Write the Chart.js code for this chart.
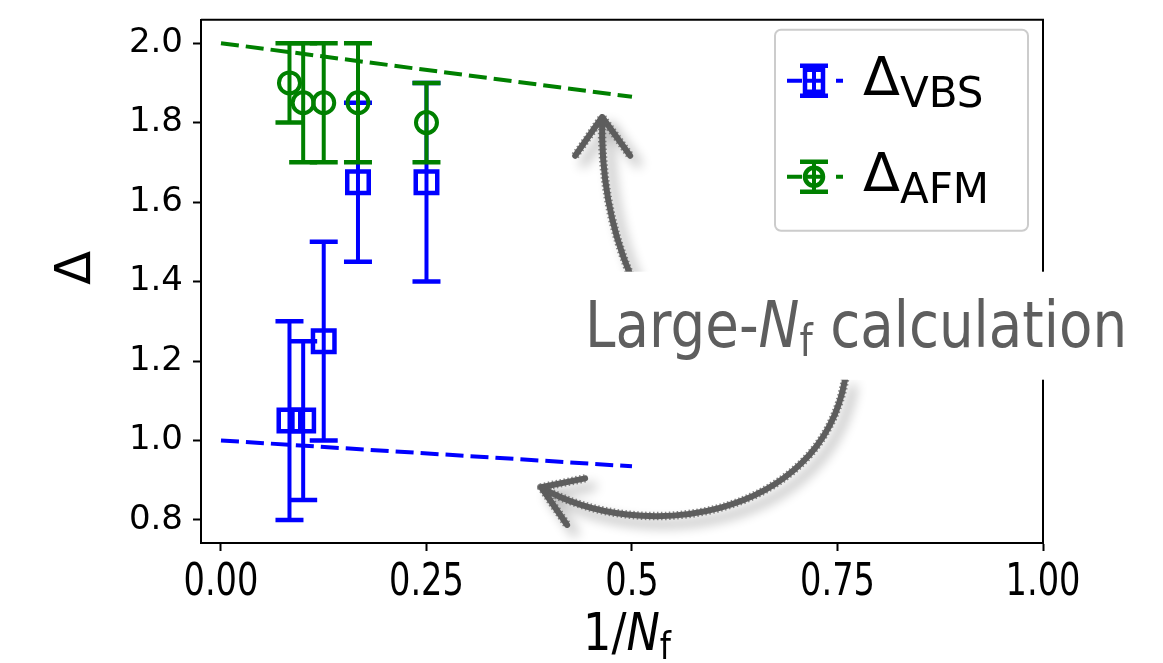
<!DOCTYPE html>
<html><head><meta charset="utf-8">
<script src="https://cdn.jsdelivr.net/npm/chart.js@4/dist/chart.umd.min.js"></script>
<style>html,body{margin:0;padding:0;background:#fff;}#wrap{width:1163px;height:663px;}</style>
</head><body><div id="wrap"><canvas id="c" width="1163" height="663"></canvas></div>
<script>
// ---- data ----
const invNf = [1/12, 1/10, 1/8, 1/6, 1/4];
const vbsValues = [1.05, 1.05, 1.25, 1.65, 1.65];
const vbsErrors = [0.25, 0.20, 0.25, 0.20, 0.25];
const afmValues = [1.90, 1.85, 1.85, 1.85, 1.80];
const afmErrors = [0.10, 0.15, 0.15, 0.15, 0.10];
const largeNfX = [0, 0.5];
const largeNfVbs = [1.0, 0.935];
const largeNfAfm = [2.0, 1.865];
const xTickValues = [0, 0.25, 0.5, 0.75, 1.0];
const xTickLabels = ['0.00', '0.25', '0.5', '0.75', '1.00'];
const yTickValues = [0.8, 1.0, 1.2, 1.4, 1.6, 1.8, 2.0];
const yTickLabels = ['0.8', '1.0', '1.2', '1.4', '1.6', '1.8', '2.0'];
// annotation arrows (data coordinates)
const arrowUpPath = [[0.4978, 1.4178], [0.4613, 1.5972], [0.4637, 1.8139]];
const arrowUpWings = [[0.4309, 1.7167], [0.4978, 1.7167]];
const arrowDownPath = [[0.7592, 1.1537], [0.7288, 0.7999], [0.5099, 0.7377], [0.3895, 0.8822]];
const arrowDownWings = [[0.4430, 0.9046], [0.4211, 0.7875]];
const annotationAnchor = [0.4429, 1.236];

const BLUE = '#0000ff', GREEN = '#008000', GRAY = '#5e5e5e';
const FONT = "'DejaVu Sans', 'Liberation Sans', sans-serif";

function pts(xs, ys) { return xs.map((x, i) => ({x: x, y: ys[i]})); }

function drawRuns(ctx, runs, x, y, align, targetWidth) {
  let total = 0;
  const ws = runs.map(r => { ctx.font = r.font; const w = ctx.measureText(r.text).width; total += w; return w; });
  const sx = targetWidth ? targetWidth / total : 1;
  const W = total * sx;
  let start = align === 'center' ? x - W / 2 : (align === 'right' ? x - W : x);
  ctx.save();
  ctx.translate(start, y);
  ctx.scale(sx, 1);
  ctx.textBaseline = 'alphabetic';
  ctx.textAlign = 'left';
  let cx = 0;
  runs.forEach((r, i) => { ctx.font = r.font; ctx.fillText(r.text, cx, r.dy || 0); cx += ws[i]; });
  ctx.restore();
  return {left: start, width: W};
}

const errorBarPlugin = {
  id: 'errorBars',
  beforeDatasetDraw(chart, args) {
    const ds = chart.data.datasets[args.index];
    if (!ds.errors) return;
    const ctx = chart.ctx, ys = chart.scales.y;
    ctx.save();
    ctx.strokeStyle = ds.borderColor;
    ctx.lineCap = 'butt';
    args.meta.data.forEach((el, i) => {
      const v = ds.data[i].y, e = ds.errors[i];
      const x = el.x, y1 = ys.getPixelForValue(v - e), y2 = ys.getPixelForValue(v + e);
      ctx.lineWidth = 4;
      ctx.beginPath();
      ctx.moveTo(x, y1); ctx.lineTo(x, y2);
      ctx.stroke();
      ctx.lineWidth = 4.5;
      ctx.beginPath();
      ctx.moveTo(x - 14, y1); ctx.lineTo(x + 14, y1);
      ctx.moveTo(x - 14, y2); ctx.lineTo(x + 14, y2);
      ctx.stroke();
    });
    ctx.restore();
  }
};

function roughStroke(ctx, buildPath) {
  ctx.save();
  ctx.strokeStyle = GRAY; ctx.lineCap = 'round'; ctx.lineJoin = 'round';
  ctx.shadowColor = 'rgba(0,0,0,0.33)'; ctx.shadowBlur = 12; ctx.shadowOffsetX = 8; ctx.shadowOffsetY = 8;
  ctx.lineWidth = 6;
  buildPath(); ctx.stroke();
  ctx.shadowColor = 'rgba(0,0,0,0)';
  ctx.lineWidth = 8.5; ctx.lineCap = 'butt';
  ctx.setLineDash([1.5, 2.5]);
  ctx.globalAlpha = 0.75;
  buildPath(); ctx.stroke();
  ctx.restore();
}

const decorPlugin = {
  id: 'decor',
  afterDraw(chart) {
    const ctx = chart.ctx, ca = chart.chartArea, xs = chart.scales.x, ys = chart.scales.y;
    const P = p => [xs.getPixelForValue(p[0]), ys.getPixelForValue(p[1])];
    // top & right spines
    ctx.save();
    ctx.strokeStyle = '#000'; ctx.lineWidth = 2;
    ctx.beginPath();
    ctx.moveTo(ca.left, ca.top); ctx.lineTo(ca.right, ca.top); ctx.lineTo(ca.right, ca.bottom);
    ctx.stroke();
    ctx.restore();

    // x tick labels (condensed)
    ctx.save();
    ctx.fillStyle = '#000';
    xTickValues.forEach((v, i) => {
      const px = xs.getPixelForValue(v);
      ctx.font = '44px ' + FONT;
      const w = ctx.measureText(xTickLabels[i]).width;
      drawRuns(ctx, [{text: xTickLabels[i], font: '44px ' + FONT}], px, 595, 'center', w * 0.765);
    });
    // x axis title 1/N_f
    drawRuns(ctx, [
      {text: '1/', font: '52px ' + FONT},
      {text: 'N', font: 'italic 52px ' + FONT},
      {text: 'f', font: '37px ' + FONT, dy: 9}
    ], (ca.left + ca.right) / 2 + 5, 650, 'center', 88);
    // y axis title
    ctx.translate(77, 268);
    ctx.rotate(-Math.PI / 2);
    ctx.font = '50px ' + FONT;
    ctx.textAlign = 'center'; ctx.textBaseline = 'middle';
    ctx.fillText('Δ', 0, 0);
    ctx.restore();

    // legend
    ctx.save();
    const bx = ca.right - 268, by = ca.top + 10, bw = 253, bh = 201;
    ctx.beginPath();
    ctx.roundRect(bx, by, bw, bh, 6);
    ctx.fillStyle = 'rgba(255,255,255,0.9)'; ctx.fill();
    ctx.strokeStyle = '#cccccc'; ctx.lineWidth = 2; ctx.stroke();
    const rows = [
      {color: BLUE, marker: 'square', sub: 'VBS', cy: by + 51},
      {color: GREEN, marker: 'circle', sub: 'AFM', cy: by + 147}
    ];
    rows.forEach(r => {
      const mx = bx + 39;
      ctx.strokeStyle = r.color; ctx.lineWidth = 4;
      ctx.beginPath();
      ctx.moveTo(bx + 12, r.cy); ctx.lineTo(mx - 12, r.cy);
      ctx.moveTo(mx - 8, r.cy); ctx.lineTo(mx + 8, r.cy);
      ctx.moveTo(bx + 61, r.cy); ctx.lineTo(bx + 68, r.cy);
      ctx.moveTo(mx, r.cy - 15); ctx.lineTo(mx, r.cy + 15);
      ctx.stroke();
      ctx.lineWidth = 4.5;
      ctx.beginPath();
      ctx.moveTo(mx - 14, r.cy - 15); ctx.lineTo(mx + 14, r.cy - 15);
      ctx.moveTo(mx - 14, r.cy + 15); ctx.lineTo(mx + 14, r.cy + 15);
      ctx.stroke();
      ctx.beginPath();
      if (r.marker === 'square') ctx.rect(mx - 9, r.cy - 11, 18, 22);
      else ctx.arc(mx, r.cy, 9, 0, Math.PI * 2);
      ctx.stroke();
      ctx.fillStyle = '#000';
      drawRuns(ctx, [
        {text: 'Δ', font: '54px ' + FONT},
        {text: r.sub, font: '42px ' + FONT, dy: 12}
      ], bx + 88, r.cy + 14, 'left');
    });
    ctx.restore();

    // arrows
    const a1 = arrowUpPath.map(P), w1 = arrowUpWings.map(P);
    roughStroke(ctx, () => {
      ctx.beginPath();
      ctx.moveTo(a1[0][0], a1[0][1]);
      ctx.quadraticCurveTo(a1[1][0], a1[1][1], a1[2][0], a1[2][1]);
      ctx.moveTo(w1[0][0], w1[0][1]); ctx.lineTo(a1[2][0], a1[2][1]); ctx.lineTo(w1[1][0], w1[1][1]);
    });
    const a2 = arrowDownPath.map(P), w2 = arrowDownWings.map(P);
    roughStroke(ctx, () => {
      ctx.beginPath();
      ctx.moveTo(a2[0][0], a2[0][1]);
      ctx.bezierCurveTo(a2[1][0], a2[1][1], a2[2][0], a2[2][1], a2[3][0], a2[3][1]);
      ctx.moveTo(w2[0][0], w2[0][1]); ctx.lineTo(a2[3][0], a2[3][1]); ctx.lineTo(w2[1][0], w2[1][1]);
    });

    // annotation text with white box
    ctx.save();
    const an = P(annotationAnchor);
    ctx.fillStyle = '#fff';
    ctx.fillRect(an[0] - 10, an[1] - 75, 560, 108);
    ctx.fillStyle = GRAY;
    drawRuns(ctx, [
      {text: 'Large-', font: '64px ' + FONT},
      {text: 'N', font: 'italic 64px ' + FONT},
      {text: 'f', font: '44px ' + FONT, dy: 9},
      {text: ' calculation', font: '64px ' + FONT}
    ], an[0], an[1], 'left', 542);
    ctx.restore();
  }
};

new Chart(document.getElementById('c'), {
  type: 'scatter',
  data: {
    datasets: [
      {type: 'line', data: pts(largeNfX, largeNfAfm), borderColor: GREEN, borderWidth: 4, borderDash: [18, 7], pointRadius: 0, fill: false, order: 10},
      {type: 'line', data: pts(largeNfX, largeNfVbs), borderColor: BLUE, borderWidth: 4, borderDash: [18, 7], pointRadius: 0, fill: false, order: 9},
      {label: 'VBS', data: pts(invNf, vbsValues), errors: vbsErrors, pointStyle: 'rect', pointRadius: 15.2, borderColor: BLUE, backgroundColor: 'rgba(0,0,0,0)', borderWidth: 4.5, order: 5},
      {label: 'AFM', data: pts(invNf, afmValues), errors: afmErrors, pointStyle: 'circle', pointRadius: 10.5, borderColor: GREEN, backgroundColor: 'rgba(0,0,0,0)', borderWidth: 4, order: 1}
    ]
  },
  options: {
    responsive: false, animation: false,
    layout: {padding: {top: 15, right: 120, bottom: 0, left: 0}},
    plugins: {legend: {display: false}, tooltip: {enabled: false}},
    scales: {
      x: {
        type: 'linear', min: -0.0243, max: 1.0, bounds: 'data',
        afterBuildTicks: s => { s.ticks = xTickValues.map(v => ({value: v})); },
        afterFit: s => { s.height = 120; s.paddingLeft = 0; s.paddingRight = 0; },
        ticks: {display: false},
        grid: {display: true, drawOnChartArea: false, drawTicks: true, tickLength: 8, tickWidth: 2, tickColor: '#000'},
        border: {display: true, color: '#000', width: 2}
      },
      y: {
        type: 'linear', min: 0.742, max: 2.059, bounds: 'data',
        afterBuildTicks: s => { s.ticks = yTickValues.map(v => ({value: v})); },
        afterFit: s => { s.width = 201; s.paddingTop = 0; s.paddingBottom = 0; },
        ticks: {callback: (v, i) => yTickLabels[i], color: '#000', padding: 10, font: {family: 'DejaVu Sans', size: 34}},
        grid: {display: true, drawOnChartArea: false, drawTicks: true, tickLength: 8, tickWidth: 2, tickColor: '#000'},
        border: {display: true, color: '#000', width: 2}
      }
    }
  },
  plugins: [errorBarPlugin, decorPlugin]
});
</script></body></html>
